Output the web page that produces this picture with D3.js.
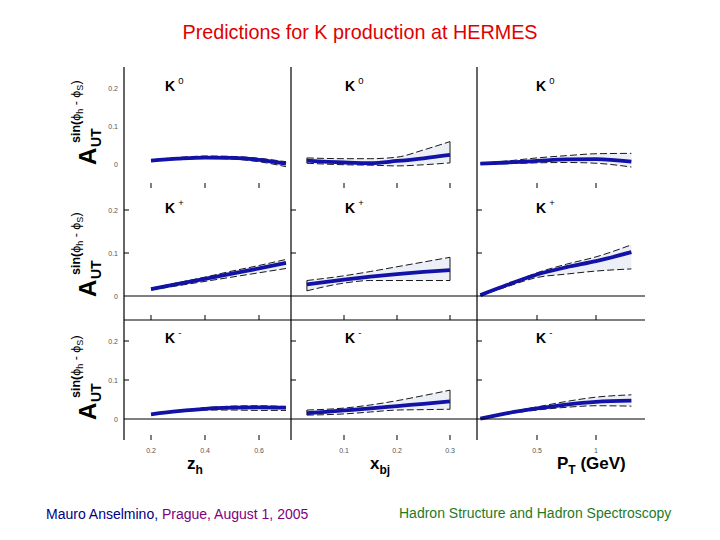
<!DOCTYPE html>
<html><head><meta charset="utf-8">
<script src="https://cdn.jsdelivr.net/npm/d3@7"></script>
<style>body{margin:0;background:#fff}</style>
</head><body>
<script>
// ---------- data ----------
const title = "Predictions for K production at HERMES";
const mesonSup = ["0", "+", "-"];
const zhX  = [0.2, 0.3, 0.4, 0.5, 0.6, 0.7];
const xbjX = [0.03, 0.1, 0.15, 0.2, 0.25, 0.3];
const ptX  = [0.02, 0.25, 0.5, 0.75, 1.0, 1.3];
const zhTicks = [0.2, 0.4, 0.6];
const xbjTicks = [0.1, 0.2, 0.3];
const ptTicks = [0.5, 1];
const zhTickLabels = ["0.2", "0.4", "0.6"];
const xbjTickLabels = ["0.1", "0.2", "0.3"];
const ptTickLabels = ["0.5", "1"];
const yTicks = [0, 0.1, 0.2];
const yTickLabels = ["0", "0.1", "0.2"];

// K0
const k0_zh_mid  = [0.009, 0.014, 0.017, 0.016, 0.011, 0.001];
const k0_zh_up   = [0.011, 0.017, 0.021, 0.020, 0.015, 0.006];
const k0_zh_lo   = [0.008, 0.012, 0.015, 0.013, 0.006, -0.007];
const k0_xbj_mid = [0.009, 0.004, 0.002, 0.008, 0.015, 0.024];
const k0_xbj_up  = [0.016, 0.014, 0.014, 0.018, 0.037, 0.059];
const k0_xbj_lo  = [0.002, -0.002, -0.003, -0.005, -0.002, 0.003];
const k0_pt_mid  = [0.001, 0.004, 0.008, 0.012, 0.013, 0.006];
const k0_pt_up   = [0.002, 0.008, 0.016, 0.022, 0.027, 0.028];
const k0_pt_lo   = [0.000, 0.001, 0.003, 0.004, 0.002, -0.008];
// K+
const kp_zh_mid  = [0.016, 0.028, 0.040, 0.052, 0.064, 0.077];
const kp_zh_up   = [0.018, 0.031, 0.044, 0.058, 0.071, 0.085];
const kp_zh_lo   = [0.014, 0.024, 0.034, 0.044, 0.054, 0.064];
const kp_xbj_mid = [0.027, 0.038, 0.045, 0.051, 0.056, 0.060];
const kp_xbj_up  = [0.036, 0.047, 0.057, 0.068, 0.079, 0.090];
const kp_xbj_lo  = [0.012, 0.030, 0.036, 0.036, 0.036, 0.036];
const kp_pt_mid  = [0.002, 0.026, 0.050, 0.067, 0.081, 0.102];
const kp_pt_up   = [0.002, 0.027, 0.054, 0.074, 0.091, 0.119];
const kp_pt_lo   = [0.001, 0.022, 0.043, 0.051, 0.058, 0.063];
// K-
const km_zh_mid  = [0.012, 0.020, 0.026, 0.029, 0.030, 0.029];
const km_zh_up   = [0.013, 0.022, 0.029, 0.033, 0.034, 0.032];
const km_zh_lo   = [0.011, 0.018, 0.023, 0.023, 0.022, 0.022];
const km_xbj_mid = [0.015, 0.022, 0.027, 0.033, 0.039, 0.045];
const km_xbj_up  = [0.023, 0.028, 0.036, 0.047, 0.060, 0.074];
const km_xbj_lo  = [0.010, 0.013, 0.018, 0.023, 0.024, 0.025];
const km_pt_mid  = [0.001, 0.015, 0.027, 0.037, 0.044, 0.047];
const km_pt_up   = [0.001, 0.017, 0.031, 0.045, 0.056, 0.062];
const km_pt_lo   = [0.001, 0.013, 0.023, 0.030, 0.034, 0.033];

// ---------- layout ----------
const W = 720, H = 540;
const cols = [
  {x0:124, x1:291, d:[0.2,0.6], r:[151,259], xs:zhX,  ticks:zhTicks,  tl:zhTickLabels, lab:165, closed:false},
  {x0:291, x1:477, d:[0.1,0.3], r:[344,450], xs:xbjX, ticks:xbjTicks, tl:xbjTickLabels, lab:345, closed:true},
  {x0:477, x1:645, d:[0.5,1.0], r:[537,596], xs:ptX,  ticks:ptTicks,  tl:ptTickLabels, lab:536, closed:false}
];
const rows = [
  {zero:164, y02:88,  tickY:183, lab:91,  yt:false},
  {zero:296, y02:210, tickY:315, lab:213, yt:true},
  {zero:419, y02:341, tickY:435, lab:343, yt:true}
];
const series = [
  [[k0_zh_mid,k0_zh_up,k0_zh_lo],[k0_xbj_mid,k0_xbj_up,k0_xbj_lo],[k0_pt_mid,k0_pt_up,k0_pt_lo]],
  [[kp_zh_mid,kp_zh_up,kp_zh_lo],[kp_xbj_mid,kp_xbj_up,kp_xbj_lo],[kp_pt_mid,kp_pt_up,kp_pt_lo]],
  [[km_zh_mid,km_zh_up,km_zh_lo],[km_xbj_mid,km_xbj_up,km_xbj_lo],[km_pt_mid,km_pt_up,km_pt_lo]]
];

const svg = d3.select("body").append("svg").attr("width", W).attr("height", H)
  .style("font-family", "'Liberation Sans', Arial, sans-serif");

svg.append("text").attr("x", 360).attr("y", 39).attr("text-anchor", "middle")
  .attr("font-size", 19.8).attr("fill", "#e00000").text(title);

const blue = "#1212a6";

rows.forEach((rw, ri) => {
  const ys = d3.scaleLinear().domain([0, 0.2]).range([rw.zero, rw.y02]);
  cols.forEach((c, ci) => {
    const xs = d3.scaleLinear().domain(c.d).range(c.r);
    const [mid, up, lo] = series[ri][ci];
    const pts = c.xs.map((x, i) => ({x, m: mid[i], u: up[i], l: lo[i]}));
    const g = svg.append("g");
    g.append("path").datum(pts)
      .attr("d", d3.area().x(d => xs(d.x)).y0(d => ys(d.l)).y1(d => ys(d.u)).curve(d3.curveMonotoneX))
      .attr("fill", "#edeff7");
    ["u", "l"].forEach(k => {
      g.append("path").datum(pts)
        .attr("d", d3.line().x(d => xs(d.x)).y(d => ys(d[k])).curve(d3.curveMonotoneX))
        .attr("fill", "none").attr("stroke", "#000").attr("stroke-width", 0.9)
        .attr("stroke-dasharray", "7,3");
    });
    if (c.closed) {
      [pts[0], pts[pts.length - 1]].forEach(p => {
        g.append("line").attr("x1", xs(p.x)).attr("x2", xs(p.x))
          .attr("y1", ys(p.l)).attr("y2", ys(p.u)).attr("stroke", "#000").attr("stroke-width", 0.9);
      });
    }
    g.append("path").datum(pts)
      .attr("d", d3.line().x(d => xs(d.x)).y(d => ys(d.m)).curve(d3.curveMonotoneX))
      .attr("fill", "none").attr("stroke", blue).attr("stroke-width", 3.8);

    // x ticks
    c.ticks.forEach(t => {
      svg.append("line").attr("x1", xs(t)).attr("x2", xs(t)).attr("y1", rw.tickY).attr("y2", rw.tickY + 5)
        .attr("stroke", "#000").attr("stroke-width", 1);
    });
    if (ri === 2) {
      c.ticks.forEach((t, i) => {
        svg.append("text").attr("x", xs(t)).attr("y", 453).attr("text-anchor", "middle")
          .attr("font-size", 7).attr("fill", "#555").text(c.tl[i]);
      });
    }
    // y ticks
    if (rw.yt) {
      [0.1, 0.2].forEach(t => {
        svg.append("line").attr("x1", c.x0).attr("x2", c.x0 + 5).attr("y1", ys(t)).attr("y2", ys(t))
          .attr("stroke", "#000").attr("stroke-width", 1);
      });
    }
    if (ci === 0) {
      yTicks.forEach((t, i) => {
        svg.append("text").attr("x", 118).attr("y", ys(t) + 2.5).attr("text-anchor", "end")
          .attr("font-size", 7).attr("fill", "#555").text(yTickLabels[i]);
      });
    }
    // meson label
    const lt = svg.append("text").attr("x", c.lab).attr("y", rw.lab)
      .attr("font-size", 14).attr("font-weight", "bold").attr("fill", "#000");
    lt.append("tspan").text("K");
    lt.append("tspan").attr("dx", 3).attr("dy", -7).attr("font-size", 9.5).attr("font-weight", "normal").text(mesonSup[ri]);
  });

  // y axis title
  const yg = svg.append("g").attr("transform", `translate(0,${rw.zero + 1}) rotate(-90)`);
  yg.append("text").attr("x", 0).attr("y", 96).attr("font-size", 24).attr("font-weight", "bold").text("A");
  yg.append("text").attr("x", 18).attr("y", 101).attr("font-size", 14).attr("font-weight", "bold").text("UT");
  const st = yg.append("text").attr("x", 22).attr("y", 80).attr("font-size", 12.5);
  st.append("tspan").attr("font-weight", "bold").text("sin(");
  st.append("tspan").text("\u03d5");
  st.append("tspan").attr("font-size", 9).attr("dy", 3).text("h");
  st.append("tspan").attr("dy", -3).text(" - \u03d5");
  st.append("tspan").attr("font-size", 9).attr("dy", 3).text("S");
  st.append("tspan").attr("dy", -3).text(")");
});

// frame lines
[124, 291, 477].forEach(x => {
  svg.append("line").attr("x1", x).attr("x2", x).attr("y1", 67).attr("y2", 440).attr("stroke", "#000").attr("stroke-width", 1.2);
});
[296, 320, 419].forEach(y => {
  svg.append("line").attr("x1", 124).attr("x2", 645).attr("y1", y).attr("y2", y).attr("stroke", "#000").attr("stroke-width", 1.2);
});

// axis titles
function axisTitle(x, main, sub, rest) {
  const t = svg.append("text").attr("x", x).attr("y", 469).attr("font-size", 17).attr("font-weight", "bold");
  t.append("tspan").text(main);
  t.append("tspan").attr("font-size", 12).attr("dy", 5).text(sub);
  if (rest) t.append("tspan").attr("dy", -5).text(rest);
}
axisTitle(187, "z", "h");
axisTitle(370, "x", "bj");
axisTitle(557, "P", "T", " (GeV)");

// footer
const f1 = svg.append("text").attr("x", 46).attr("y", 519).attr("font-size", 14);
f1.append("tspan").attr("fill", "#000080").text("Mauro Anselmino, ");
f1.append("tspan").attr("fill", "#800080").text("Prague, August 1, 2005");
svg.append("text").attr("x", 399).attr("y", 518).attr("font-size", 14).attr("fill", "#1f7a1f")
  .text("Hadron Structure and Hadron Spectroscopy");
</script>
</body></html>
